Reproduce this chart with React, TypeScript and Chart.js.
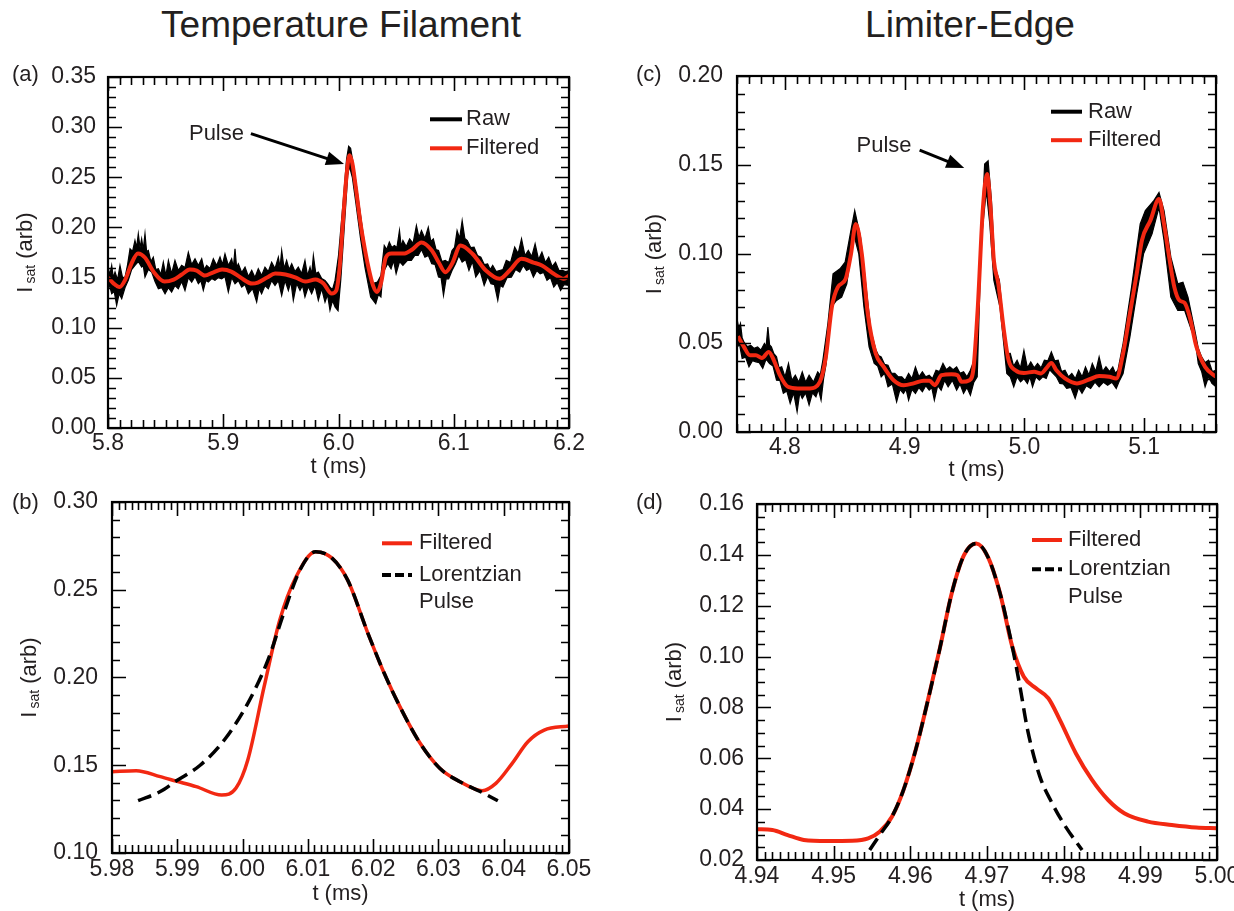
import React, { useEffect, useRef } from 'react';
import { Chart, registerables } from 'chart.js';

Chart.register(...registerables);

type Pt = [number, number];

const FONT = '"Liberation Sans", Arial, Helvetica, sans-serif';
const TEXT = '#231f20';
const RED = 'rgb(242,40,18)';

// ---------------- Panel (a): Temperature Filament, raw + filtered ----------------
const A_X_TICKS = [5.8, 5.9, 6.0, 6.1, 6.2];
const A_Y_TICKS = [0, 0.05, 0.1, 0.15, 0.2, 0.25, 0.3, 0.35];
const A_FILTERED: Pt[] = [
  [5.8, 0.15], [5.805, 0.144], [5.81, 0.1405], [5.815, 0.148], [5.82, 0.163], [5.826, 0.174],
  [5.832, 0.17], [5.84, 0.155], [5.849, 0.146], [5.857, 0.148], [5.864, 0.153], [5.871, 0.158],
  [5.877, 0.157], [5.884, 0.152], [5.891, 0.155], [5.899, 0.158], [5.907, 0.156], [5.915, 0.15],
  [5.925, 0.144], [5.93, 0.145], [5.938, 0.15], [5.945, 0.154], [5.954, 0.153], [5.963, 0.15],
  [5.971, 0.146], [5.98, 0.148], [5.987, 0.144], [5.994, 0.134], [5.998, 0.137], [6.001, 0.16],
  [6.004, 0.208], [6.007, 0.252], [6.0095, 0.272], [6.012, 0.264], [6.015, 0.24], [6.019, 0.205],
  [6.0215, 0.187], [6.026, 0.16], [6.03, 0.142], [6.0335, 0.1356], [6.037, 0.145], [6.041, 0.17],
  [6.046, 0.174], [6.0574, 0.174], [6.064, 0.178], [6.072, 0.185], [6.081, 0.177], [6.087, 0.165],
  [6.0927, 0.1554], [6.0985, 0.1637], [6.1059, 0.182], [6.1162, 0.1737], [6.1279, 0.157],
  [6.1397, 0.1488], [6.1485, 0.157], [6.1588, 0.1687], [6.1691, 0.165], [6.1765, 0.162],
  [6.1867, 0.1538], [6.1956, 0.1488], [6.2, 0.152],
];
const A_RAW_HIGH: Pt[] = [
  [5.8, 0.1604], [5.8016, 0.153], [5.8032, 0.1621], [5.8046, 0.15], [5.8061, 0.1555], [5.8083, 0.148],
  [5.8104, 0.1621], [5.8126, 0.15], [5.8148, 0.1505], [5.817, 0.163], [5.8191, 0.1787], [5.8213, 0.176],
  [5.8234, 0.1869], [5.8248, 0.18], [5.8263, 0.1936], [5.8278, 0.18], [5.8292, 0.1886], [5.8306, 0.178],
  [5.8321, 0.1936], [5.8335, 0.176], [5.835, 0.177], [5.8372, 0.166], [5.8393, 0.1704], [5.8415, 0.158],
  [5.8437, 0.1588], [5.8458, 0.153], [5.848, 0.1654], [5.8502, 0.152], [5.8524, 0.1671], [5.8552, 0.154],
  [5.8581, 0.1671], [5.861, 0.157], [5.8639, 0.1621], [5.8668, 0.16], [5.8697, 0.1753], [5.8726, 0.163],
  [5.8755, 0.1687], [5.8784, 0.162], [5.8813, 0.1687], [5.8835, 0.158], [5.8856, 0.1621], [5.8885, 0.159],
  [5.8914, 0.1687], [5.8943, 0.162], [5.8972, 0.1704], [5.8993, 0.163], [5.9015, 0.1737], [5.9044, 0.162],
  [5.9073, 0.1687], [5.9088, 0.16], [5.9102, 0.1787], [5.9116, 0.16], [5.9131, 0.1637], [5.916, 0.155],
  [5.9189, 0.1604], [5.9218, 0.151], [5.9247, 0.1571], [5.9275, 0.15], [5.9304, 0.1588], [5.9333, 0.152],
  [5.9362, 0.1604], [5.9391, 0.156], [5.942, 0.1654], [5.9449, 0.159], [5.9478, 0.1704], [5.9493, 0.16],
  [5.9507, 0.177], [5.9528, 0.159], [5.955, 0.1671], [5.9572, 0.158], [5.9594, 0.1637], [5.9622, 0.156],
  [5.9651, 0.1604], [5.968, 0.154], [5.9709, 0.1671], [5.9731, 0.152], [5.9753, 0.1604], [5.9767, 0.153],
  [5.9782, 0.172], [5.9803, 0.154], [5.9825, 0.1555], [5.9854, 0.149], [5.9883, 0.1472], [5.9905, 0.144],
  [5.9926, 0.1405], [5.9948, 0.138], [5.997, 0.1472], [6.0, 0.172], [6.004, 0.225], [6.007, 0.268],
  [6.0088, 0.281], [6.0105, 0.279], [6.013, 0.262], [6.016, 0.238], [6.02, 0.205], [6.025, 0.1637],
  [6.0294, 0.1439], [6.0338, 0.1455], [6.0368, 0.152], [6.0397, 0.182], [6.0419, 0.178], [6.0441, 0.1853],
  [6.0463, 0.18], [6.0485, 0.182], [6.0507, 0.18], [6.0529, 0.1969], [6.0544, 0.181], [6.0559, 0.1869],
  [6.0588, 0.181], [6.0617, 0.1886], [6.0647, 0.184], [6.0676, 0.2019], [6.0698, 0.19], [6.072, 0.1969],
  [6.075, 0.189], [6.0779, 0.2002], [6.0801, 0.186], [6.0823, 0.1886], [6.0846, 0.178], [6.0868, 0.177],
  [6.0897, 0.166], [6.0926, 0.1671], [6.0956, 0.165], [6.0985, 0.177], [6.1007, 0.18], [6.1029, 0.1969],
  [6.1051, 0.189], [6.1073, 0.2068], [6.1096, 0.189], [6.1118, 0.1869], [6.1147, 0.18], [6.1176, 0.1803],
  [6.1206, 0.172], [6.1235, 0.1704], [6.1265, 0.163], [6.1294, 0.1637], [6.1316, 0.158], [6.1338, 0.1621],
  [6.1368, 0.156], [6.1397, 0.1571], [6.1427, 0.158], [6.1456, 0.1671], [6.1493, 0.165], [6.1529, 0.1803],
  [6.1559, 0.174], [6.1588, 0.1886], [6.1618, 0.172], [6.1647, 0.177], [6.1677, 0.171], [6.1706, 0.1836],
  [6.1736, 0.168], [6.1765, 0.1753], [6.1795, 0.165], [6.1824, 0.1704], [6.1854, 0.161], [6.1883, 0.1654],
  [6.1913, 0.157], [6.1942, 0.1571], [6.1971, 0.156], [6.2, 0.1571],
];
const A_RAW_LOW: Pt[] = [
  [5.8, 0.1405], [5.8016, 0.141], [5.8032, 0.1339], [5.8054, 0.136], [5.8075, 0.1223], [5.8097, 0.134],
  [5.8119, 0.1289], [5.8148, 0.14], [5.8176, 0.1472], [5.8205, 0.158], [5.8234, 0.1621], [5.8263, 0.166],
  [5.8292, 0.1604], [5.8306, 0.162], [5.8321, 0.1505], [5.835, 0.158], [5.8379, 0.1555], [5.8408, 0.146],
  [5.8437, 0.1389], [5.8466, 0.14], [5.8495, 0.1339], [5.8524, 0.14], [5.8552, 0.1356], [5.8581, 0.142],
  [5.861, 0.1389], [5.8639, 0.146], [5.8668, 0.1372], [5.8697, 0.15], [5.8726, 0.1455], [5.8755, 0.151],
  [5.8784, 0.1439], [5.8806, 0.147], [5.8827, 0.1372], [5.8849, 0.147], [5.8871, 0.1455], [5.89, 0.149],
  [5.8928, 0.1472], [5.8957, 0.15], [5.8986, 0.1488], [5.9015, 0.151], [5.9044, 0.1356], [5.9073, 0.15],
  [5.9102, 0.1439], [5.9131, 0.147], [5.916, 0.1405], [5.9189, 0.143], [5.9218, 0.1339], [5.9254, 0.139],
  [5.929, 0.1256], [5.9311, 0.139], [5.9333, 0.1339], [5.9362, 0.142], [5.9391, 0.1389], [5.942, 0.147],
  [5.9449, 0.1422], [5.9478, 0.147], [5.9507, 0.1322], [5.9536, 0.147], [5.9565, 0.1372], [5.9587, 0.146],
  [5.9608, 0.1273], [5.9637, 0.144], [5.9666, 0.1372], [5.9688, 0.142], [5.9709, 0.1306], [5.9738, 0.141],
  [5.9767, 0.1339], [5.9796, 0.142], [5.9825, 0.1273], [5.9854, 0.139], [5.9883, 0.1256], [5.9905, 0.133],
  [5.9926, 0.1173], [5.9948, 0.127], [5.997, 0.1207], [5.9996, 0.117], [6.002, 0.148], [6.005, 0.2],
  [6.008, 0.252], [6.0095, 0.261], [6.012, 0.25], [6.015, 0.225], [6.019, 0.19], [6.023, 0.16],
  [6.0279, 0.1306], [6.0323, 0.124], [6.0346, 0.133], [6.0368, 0.1306], [6.0383, 0.15], [6.0397, 0.1571],
  [6.0427, 0.164], [6.0456, 0.1588], [6.0478, 0.167], [6.05, 0.1538], [6.053, 0.166], [6.0559, 0.1621],
  [6.0596, 0.167], [6.0632, 0.1671], [6.0662, 0.172], [6.0691, 0.172], [6.072, 0.178], [6.075, 0.1704],
  [6.078, 0.172], [6.0809, 0.1637], [6.0838, 0.163], [6.0868, 0.1505], [6.089, 0.15], [6.0911, 0.1323],
  [6.0934, 0.149], [6.0956, 0.1488], [6.0985, 0.157], [6.1015, 0.1637], [6.1044, 0.172], [6.1073, 0.1654],
  [6.1103, 0.168], [6.1132, 0.1571], [6.1162, 0.166], [6.1191, 0.1505], [6.1228, 0.157], [6.1264, 0.1422],
  [6.1294, 0.151], [6.1323, 0.1439], [6.1353, 0.143], [6.1382, 0.1273], [6.1404, 0.142], [6.1426, 0.1405],
  [6.1463, 0.15], [6.15, 0.1505], [6.1537, 0.158], [6.1573, 0.1555], [6.1603, 0.162], [6.1632, 0.1571],
  [6.1662, 0.159], [6.1691, 0.1505], [6.1721, 0.157], [6.175, 0.1538], [6.178, 0.155], [6.1809, 0.1472],
  [6.1839, 0.15], [6.1868, 0.1405], [6.1898, 0.145], [6.1927, 0.1372], [6.1956, 0.143], [6.2, 0.1422],
];

// ---------------- Panel (b): Temperature Filament, pulse close-up ----------------
const B_X_TICKS = [5.98, 5.99, 6.0, 6.01, 6.02, 6.03, 6.04, 6.05];
const B_Y_TICKS = [0.1, 0.15, 0.2, 0.25, 0.3];
const B_FILTERED: Pt[] = [
  [5.98, 0.1463], [5.9837, 0.1469], [5.9874, 0.1435], [5.9898, 0.141], [5.9929, 0.1378], [5.9968, 0.133],
  [5.999, 0.137], [6.0008, 0.153], [6.0033, 0.1948], [6.0057, 0.2328], [6.0082, 0.2574], [6.0112, 0.2717],
  [6.0137, 0.268], [6.0161, 0.2555], [6.0192, 0.2252], [6.0217, 0.2024], [6.0241, 0.1834], [6.0272, 0.1625],
  [6.0302, 0.1483], [6.0333, 0.1406], [6.0367, 0.1355], [6.0388, 0.1397], [6.0413, 0.1511], [6.0437, 0.1634],
  [6.0462, 0.17], [6.05, 0.1724],
];
const B_LORENTZ: Pt[] = [
  [5.984, 0.1298], [5.9874, 0.135], [5.9898, 0.141], [5.9935, 0.15], [5.9972, 0.1644], [6.0008, 0.1853],
  [6.0039, 0.21], [6.0063, 0.2366], [6.0088, 0.2613], [6.0112, 0.2717], [6.0137, 0.268], [6.0161, 0.2555],
  [6.0192, 0.2252], [6.0217, 0.2024], [6.0241, 0.1834], [6.0272, 0.1625], [6.0302, 0.1483], [6.0333, 0.1406],
  [6.0367, 0.1345], [6.0391, 0.1298],
];

// ---------------- Panel (c): Limiter-Edge, raw + filtered ----------------
const C_X_TICKS = [4.8, 4.9, 5.0, 5.1];
const C_Y_TICKS = [0, 0.05, 0.1, 0.15, 0.2];
const C_FILTERED: Pt[] = [
  [4.7608, 0.0538], [4.7658, 0.0478], [4.7708, 0.0431], [4.7758, 0.0431], [4.7808, 0.0416], [4.7865, 0.045],
  [4.7908, 0.0403], [4.7958, 0.0319], [4.8025, 0.0254], [4.8108, 0.0245], [4.8208, 0.0245], [4.8292, 0.0282],
  [4.8342, 0.0422], [4.8392, 0.0702], [4.8442, 0.0814], [4.8508, 0.0861], [4.8552, 0.1001], [4.8592, 0.1169],
  [4.8642, 0.1001], [4.8692, 0.0665], [4.8758, 0.0441], [4.8825, 0.0366], [4.8908, 0.0291], [4.8992, 0.0263],
  [4.9075, 0.0273], [4.9158, 0.0288], [4.9208, 0.0288], [4.9252, 0.0263], [4.9308, 0.0319], [4.9392, 0.0325],
  [4.9442, 0.0319], [4.9475, 0.0282], [4.9542, 0.0291], [4.9575, 0.036], [4.9611, 0.0702], [4.9654, 0.1262],
  [4.9688, 0.1449], [4.9717, 0.1262], [4.9745, 0.0964], [4.9782, 0.0833], [4.9825, 0.059], [4.9868, 0.0403],
  [4.9925, 0.0347], [4.9996, 0.0332], [5.0082, 0.0338], [5.0139, 0.0329], [5.0182, 0.0357], [5.0225, 0.0388],
  [5.0267, 0.0347], [5.0339, 0.0301], [5.0439, 0.0273], [5.0539, 0.0295], [5.0624, 0.0314], [5.071, 0.031],
  [5.0767, 0.0301], [5.0824, 0.0441], [5.0881, 0.0665], [5.0938, 0.0889], [5.0981, 0.1076], [5.1052, 0.1188],
  [5.1124, 0.1309], [5.1166, 0.1169], [5.1209, 0.0982], [5.1252, 0.0814], [5.1295, 0.0739], [5.1338, 0.0725],
  [5.1381, 0.0646], [5.1437, 0.0478], [5.1509, 0.0366], [5.16, 0.031],
];
const C_RAW_HIGH: Pt[] = [
  [4.76, 0.0637], [4.7615, 0.058], [4.7629, 0.0609], [4.7643, 0.053], [4.7657, 0.0506], [4.7686, 0.048],
  [4.7715, 0.0487], [4.7743, 0.047], [4.7772, 0.0478], [4.78, 0.046], [4.7829, 0.0497], [4.7843, 0.048],
  [4.7858, 0.059], [4.7872, 0.049], [4.7887, 0.0478], [4.7908, 0.044], [4.793, 0.0422], [4.7951, 0.036],
  [4.7973, 0.0366], [4.8001, 0.031], [4.803, 0.0385], [4.8058, 0.029], [4.8087, 0.0319], [4.8116, 0.028],
  [4.8145, 0.0338], [4.8173, 0.028], [4.8202, 0.0319], [4.8238, 0.028], [4.8274, 0.0338], [4.8295, 0.032],
  [4.8317, 0.0403], [4.8359, 0.0609], [4.8402, 0.0889], [4.846, 0.0917], [4.8503, 0.0954], [4.8546, 0.1113],
  [4.8583, 0.1244], [4.8632, 0.1094], [4.8675, 0.0833], [4.8718, 0.0571], [4.8761, 0.0459], [4.8782, 0.043],
  [4.8804, 0.0422], [4.8832, 0.038], [4.8861, 0.0375], [4.889, 0.033], [4.8918, 0.0329], [4.8947, 0.031],
  [4.8976, 0.031], [4.9004, 0.029], [4.9033, 0.0329], [4.9061, 0.03], [4.909, 0.0366], [4.9119, 0.031],
  [4.9148, 0.0338], [4.9176, 0.031], [4.9205, 0.0319], [4.9233, 0.03], [4.9262, 0.0347], [4.9291, 0.034],
  [4.932, 0.0385], [4.9348, 0.035], [4.9377, 0.0366], [4.9405, 0.035], [4.9434, 0.0366], [4.9463, 0.033],
  [4.9492, 0.0338], [4.952, 0.031], [4.9549, 0.0347], [4.9578, 0.04], [4.9606, 0.0609], [4.9625, 0.0889],
  [4.9668, 0.1505], [4.9697, 0.1524], [4.9725, 0.13], [4.9754, 0.0926], [4.9791, 0.0852], [4.9839, 0.0497],
  [4.986, 0.044], [4.9882, 0.0441], [4.991, 0.037], [4.9939, 0.0403], [4.9967, 0.036], [4.9996, 0.0459],
  [5.0025, 0.036], [5.0053, 0.0394], [5.0082, 0.036], [5.011, 0.0385], [5.0139, 0.036], [5.0167, 0.0403],
  [5.0196, 0.04], [5.0225, 0.045], [5.0253, 0.04], [5.0282, 0.0403], [5.031, 0.034], [5.0339, 0.0347],
  [5.0368, 0.031], [5.0396, 0.0329], [5.0425, 0.03], [5.0453, 0.0347], [5.0482, 0.031], [5.051, 0.0366],
  [5.0539, 0.032], [5.0567, 0.0385], [5.0596, 0.034], [5.0624, 0.0422], [5.0653, 0.034], [5.0681, 0.0366],
  [5.071, 0.034], [5.0738, 0.0366], [5.076, 0.033], [5.0781, 0.0347], [5.0824, 0.0497], [5.0895, 0.0814],
  [5.0967, 0.1169], [5.101, 0.1244], [5.1081, 0.13], [5.1124, 0.1346], [5.1166, 0.1244], [5.1223, 0.0982],
  [5.1281, 0.0833], [5.1324, 0.0842], [5.1366, 0.0758], [5.1423, 0.0571], [5.1452, 0.047], [5.148, 0.0422],
  [5.1509, 0.039], [5.1538, 0.0403], [5.1569, 0.034], [5.16, 0.0347],
];
const C_RAW_LOW: Pt[] = [
  [4.76, 0.0478], [4.7622, 0.049], [4.7643, 0.0413], [4.7672, 0.042], [4.77, 0.0366], [4.7729, 0.04],
  [4.7758, 0.0394], [4.7786, 0.039], [4.7815, 0.0357], [4.7843, 0.041], [4.7872, 0.0385], [4.7901, 0.037],
  [4.793, 0.0291], [4.7958, 0.029], [4.7987, 0.0217], [4.8016, 0.023], [4.8044, 0.0161], [4.8073, 0.022],
  [4.8102, 0.0114], [4.8124, 0.022], [4.8145, 0.0189], [4.8173, 0.022], [4.8202, 0.0151], [4.823, 0.022],
  [4.8259, 0.0198], [4.828, 0.024], [4.8302, 0.0179], [4.8323, 0.03], [4.8345, 0.0385], [4.8388, 0.0702],
  [4.8431, 0.0739], [4.8474, 0.0758], [4.8517, 0.0833], [4.8574, 0.1113], [4.8617, 0.1001], [4.866, 0.0702],
  [4.8703, 0.0478], [4.8746, 0.0385], [4.8775, 0.037], [4.8804, 0.031], [4.8832, 0.033], [4.8861, 0.0254],
  [4.8897, 0.027], [4.8933, 0.017], [4.8961, 0.024], [4.899, 0.0217], [4.9012, 0.024], [4.9033, 0.0179],
  [4.9061, 0.024], [4.909, 0.0217], [4.9119, 0.025], [4.9148, 0.0226], [4.9176, 0.026], [4.9205, 0.0235],
  [4.9226, 0.025], [4.9248, 0.0179], [4.9276, 0.026], [4.9305, 0.0235], [4.9334, 0.029], [4.9363, 0.0254],
  [4.9398, 0.029], [4.9434, 0.0235], [4.9463, 0.027], [4.9492, 0.0217], [4.952, 0.025], [4.9549, 0.0207],
  [4.9578, 0.028], [4.9606, 0.031], [4.964, 0.1076], [4.9682, 0.1356], [4.9711, 0.1169], [4.9745, 0.0852],
  [4.9796, 0.0702], [4.9853, 0.0329], [4.9882, 0.031], [4.9911, 0.0254], [4.9939, 0.031], [4.9968, 0.0282],
  [4.9996, 0.03], [5.0025, 0.0273], [5.0046, 0.031], [5.0068, 0.0254], [5.0096, 0.031], [5.0125, 0.0291],
  [5.0153, 0.031], [5.0182, 0.0301], [5.021, 0.035], [5.0239, 0.0329], [5.0267, 0.031], [5.0296, 0.0273],
  [5.0325, 0.027], [5.0353, 0.0245], [5.0389, 0.025], [5.0424, 0.0189], [5.0452, 0.025], [5.0481, 0.0217],
  [5.0517, 0.026], [5.0553, 0.0245], [5.0589, 0.028], [5.0624, 0.0254], [5.066, 0.028], [5.0695, 0.0263],
  [5.0731, 0.028], [5.0767, 0.0245], [5.0795, 0.029], [5.0824, 0.0329], [5.0881, 0.0534], [5.0938, 0.0777],
  [5.0995, 0.1001], [5.1066, 0.1113], [5.1124, 0.1262], [5.1166, 0.1076], [5.1223, 0.0758], [5.1281, 0.0683],
  [5.1338, 0.0683], [5.1395, 0.0571], [5.1423, 0.053], [5.1452, 0.0385], [5.148, 0.034], [5.1509, 0.0254],
  [5.1538, 0.031], [5.1566, 0.0273], [5.16, 0.0254],
];

// ---------------- Panel (d): Limiter-Edge, pulse close-up ----------------
const D_X_TICKS = [4.94, 4.95, 4.96, 4.97, 4.98, 4.99, 5.0];
const D_Y_TICKS = [0.02, 0.04, 0.06, 0.08, 0.1, 0.12, 0.14, 0.16];
const D_FILTERED: Pt[] = [
  [4.94, 0.0321], [4.942, 0.0318], [4.944, 0.0298], [4.9461, 0.0279], [4.9492, 0.0275], [4.9524, 0.0276],
  [4.9545, 0.0285], [4.956, 0.0311], [4.9576, 0.037], [4.9591, 0.0475], [4.9607, 0.0633], [4.9623, 0.0829],
  [4.9639, 0.1039], [4.9654, 0.1249], [4.967, 0.1399], [4.9686, 0.1445], [4.9701, 0.1393], [4.9717, 0.1249],
  [4.9733, 0.1039], [4.9748, 0.0921], [4.9764, 0.0875], [4.978, 0.0836], [4.9795, 0.0751], [4.9816, 0.0619],
  [4.9837, 0.0515], [4.9858, 0.0436], [4.9879, 0.0384], [4.991, 0.0351], [4.9941, 0.0338], [4.9973, 0.0328],
  [5.0, 0.0325],
];
const D_LORENTZ: Pt[] = [
  [4.9547, 0.0239], [4.956, 0.0298], [4.9576, 0.037], [4.9591, 0.0475], [4.9607, 0.0633], [4.9623, 0.0829],
  [4.9639, 0.1039], [4.9654, 0.1249], [4.967, 0.1399], [4.9686, 0.1445], [4.9701, 0.1393], [4.9717, 0.1249],
  [4.9733, 0.1039], [4.9743, 0.0882], [4.9753, 0.0711], [4.9769, 0.0528], [4.9785, 0.0423], [4.9801, 0.0338],
  [4.9824, 0.0239],
];

// Annotation anchor points (data units)
const A_PULSE_TEXT: Pt = [5.918, 0.2936];
const A_PULSE_ARROW: Pt[] = [[5.924, 0.2936], [6.0048, 0.2632]];
const C_PULSE_TEXT: Pt = [4.9058, 0.1608];
const C_PULSE_ARROW: Pt[] = [[4.9125, 0.1584], [4.9498, 0.1483]];

const toXY = (pts: Pt[]) => pts.map(([x, y]) => ({ x, y }));

interface LegendItem { lines: string[]; color: string; dash?: number[] }
interface PanelDef {
  key: string;
  canvas: { left: number; top: number; width: number; height: number };
  padTop: number; padRight: number;
  yAxisWidth: number; xAxisHeight: number;
  xRange: [number, number]; yRange: [number, number];
  xTicks: number[]; yTicks: number[]; xDec: number; yDec: number;
  xMinor: number; yMinor: number;
  xLabelPad: number; yLabelPad: number;
  label: string; labelPos: [number, number];
  legend: { x0: number; x1: number; tx: number; y: number; dy: number; lineDy: number; items: LegendItem[] };
  pulse?: { text: Pt; arrow: Pt[] };
  datasets: any[];
}

const rawSets = (hi: Pt[], lo: Pt[]) => [
  { label: 'Raw high', data: toXY(hi), borderColor: '#000', borderWidth: 1.2, tension: 0, pointRadius: 0, fill: false, order: 1 },
  { label: 'Raw low', data: toXY(lo), borderColor: '#000', borderWidth: 1.2, tension: 0, pointRadius: 0, fill: '-1', backgroundColor: '#000', order: 2 },
];

const PANELS: PanelDef[] = [
  {
    key: 'a', canvas: { left: 0, top: 60, width: 610, height: 420 }, padTop: 17, padRight: 41,
    yAxisWidth: 108, xAxisHeight: 52, xRange: [5.8, 6.2], yRange: [0, 0.35],
    xTicks: A_X_TICKS, yTicks: A_Y_TICKS, xDec: 1, yDec: 2, xMinor: 0.01, yMinor: 0.01,
    xLabelPad: 2, yLabelPad: 12, label: '(a)', labelPos: [12, 15],
    legend: { x0: 430, x1: 462, tx: 466, y: 59.3, dy: 29, lineDy: 27, items: [
      { lines: ['Raw'], color: '#000' }, { lines: ['Filtered'], color: RED }] },
    pulse: { text: A_PULSE_TEXT, arrow: A_PULSE_ARROW },
    datasets: [
      { label: 'Filtered', data: toXY(A_FILTERED), borderColor: RED, borderWidth: 4, cubicInterpolationMode: 'monotone', pointRadius: 0, fill: false, order: 0 },
      ...rawSets(A_RAW_HIGH, A_RAW_LOW),
    ],
  },
  {
    key: 'b', canvas: { left: 0, top: 480, width: 610, height: 427 }, padTop: 22, padRight: 41,
    yAxisWidth: 112, xAxisHeight: 54, xRange: [5.98, 6.05], yRange: [0.1, 0.3],
    xTicks: B_X_TICKS, yTicks: B_Y_TICKS, xDec: 2, yDec: 2, xMinor: 0.001, yMinor: 0.01,
    xLabelPad: 3, yLabelPad: 14, label: '(b)', labelPos: [12, 23],
    legend: { x0: 382, x1: 412, tx: 419, y: 63.3, dy: 31.7, lineDy: 26.7, items: [
      { lines: ['Filtered'], color: RED }, { lines: ['Lorentzian', 'Pulse'], color: '#000', dash: [9, 4] }] },
    datasets: [
      { label: 'Lorentzian Pulse', data: toXY(B_LORENTZ), borderColor: '#000', borderWidth: 3.5, borderDash: [14, 7], cubicInterpolationMode: 'monotone', pointRadius: 0, fill: false, order: 0 },
      { label: 'Filtered', data: toXY(B_FILTERED), borderColor: RED, borderWidth: 3.5, cubicInterpolationMode: 'monotone', pointRadius: 0, fill: false, order: 1 },
    ],
  },
  {
    key: 'c', canvas: { left: 620, top: 60, width: 614, height: 423 }, padTop: 16, padRight: 18,
    yAxisWidth: 117, xAxisHeight: 51, xRange: [4.76, 5.16], yRange: [0, 0.2],
    xTicks: C_X_TICKS, yTicks: C_Y_TICKS, xDec: 1, yDec: 2, xMinor: 0.01, yMinor: 0.01,
    xLabelPad: 2, yLabelPad: 14, label: '(c)', labelPos: [16, 15],
    legend: { x0: 431, x1: 462, tx: 468, y: 51.7, dy: 28.5, lineDy: 27, items: [
      { lines: ['Raw'], color: '#000' }, { lines: ['Filtered'], color: RED }] },
    pulse: { text: C_PULSE_TEXT, arrow: C_PULSE_ARROW },
    datasets: [
      { label: 'Filtered', data: toXY(C_FILTERED), borderColor: RED, borderWidth: 4, cubicInterpolationMode: 'monotone', pointRadius: 0, fill: false, order: 0 },
      ...rawSets(C_RAW_HIGH, C_RAW_LOW),
    ],
  },
  {
    key: 'd', canvas: { left: 620, top: 480, width: 640, height: 433 }, padTop: 24, padRight: 43,
    yAxisWidth: 137, xAxisHeight: 53, xRange: [4.94, 5.0], yRange: [0.02, 0.16],
    xTicks: D_X_TICKS, yTicks: D_Y_TICKS, xDec: 2, yDec: 2, xMinor: 0.001, yMinor: 0.005,
    xLabelPad: 2.5, yLabelPad: 13, label: '(d)', labelPos: [16, 23],
    legend: { x0: 412, x1: 442, tx: 448, y: 60, dy: 29.3, lineDy: 27.4, items: [
      { lines: ['Filtered'], color: RED }, { lines: ['Lorentzian', 'Pulse'], color: '#000', dash: [9, 4] }] },
    datasets: [
      { label: 'Lorentzian Pulse', data: toXY(D_LORENTZ), borderColor: '#000', borderWidth: 3.5, borderDash: [14, 7], cubicInterpolationMode: 'monotone', pointRadius: 0, fill: false, order: 0 },
      { label: 'Filtered', data: toXY(D_FILTERED), borderColor: RED, borderWidth: 4, cubicInterpolationMode: 'monotone', pointRadius: 0, fill: false, order: 1 },
    ],
  },
];

function drawYTitle(ctx: CanvasRenderingContext2D, cx: number, cy: number) {
  ctx.save();
  ctx.translate(cx, cy);
  ctx.rotate(-Math.PI / 2);
  const big = `22px ${FONT}`;
  const small = `14px ${FONT}`;
  ctx.font = big;
  const wI = ctx.measureText('I').width;
  const wR = ctx.measureText(' (arb)').width;
  ctx.font = small;
  const wS = ctx.measureText('sat').width;
  const gap = 3;
  let x = -(wI + gap + wS + wR) / 2;
  ctx.fillStyle = TEXT;
  ctx.textAlign = 'left';
  ctx.textBaseline = 'alphabetic';
  ctx.font = big; ctx.fillText('I', x, 0); x += wI + gap;
  ctx.font = small; ctx.fillText('sat', x, 3); x += wS;
  ctx.font = big; ctx.fillText(' (arb)', x, 0);
  ctx.restore();
}

function drawArrow(ctx: CanvasRenderingContext2D, x1: number, y1: number, x2: number, y2: number) {
  const ang = Math.atan2(y2 - y1, x2 - x1);
  const hl = 18, hw = 7;
  const bx = x2 - hl * Math.cos(ang), by = y2 - hl * Math.sin(ang);
  ctx.beginPath();
  ctx.moveTo(x1, y1);
  ctx.lineTo(bx + 2 * Math.cos(ang), by + 2 * Math.sin(ang));
  ctx.lineWidth = 3;
  ctx.strokeStyle = '#000';
  ctx.stroke();
  ctx.beginPath();
  ctx.moveTo(x2, y2);
  ctx.lineTo(bx + hw * Math.sin(ang), by - hw * Math.cos(ang));
  ctx.lineTo(bx - hw * Math.sin(ang), by + hw * Math.cos(ang));
  ctx.closePath();
  ctx.fillStyle = '#000';
  ctx.fill();
}

function makeDecor(p: PanelDef) {
  return {
    id: 'decor_' + p.key,
    afterDatasetsDraw(chart: any) {
      const ctx: CanvasRenderingContext2D = chart.ctx;
      const { left, right, top, bottom } = chart.chartArea;
      const xs = chart.scales.x, ys = chart.scales.y;
      ctx.save();
      // inward ticks on all four sides
      ctx.strokeStyle = '#000';
      ctx.lineWidth = 1.6;
      ctx.beginPath();
      const nX = Math.round((p.xRange[1] - p.xRange[0]) / p.xMinor);
      for (let i = 0; i <= nX; i++) {
        const v = p.xRange[0] + i * p.xMinor;
        const major = p.xTicks.some((t) => Math.abs(t - v) < p.xMinor / 10);
        const len = major ? 14 : 8;
        const px = Math.round(xs.getPixelForValue(v)) + 0.5;
        ctx.moveTo(px, bottom); ctx.lineTo(px, bottom - len);
        ctx.moveTo(px, top); ctx.lineTo(px, top + len);
      }
      const nY = Math.round((p.yRange[1] - p.yRange[0]) / p.yMinor);
      for (let i = 0; i <= nY; i++) {
        const v = p.yRange[0] + i * p.yMinor;
        const major = p.yTicks.some((t) => Math.abs(t - v) < p.yMinor / 10);
        const len = major ? 14 : 8;
        const py = Math.round(ys.getPixelForValue(v)) + 0.5;
        ctx.moveTo(left, py); ctx.lineTo(left + len, py);
        ctx.moveTo(right, py); ctx.lineTo(right - len, py);
      }
      ctx.stroke();
      // frame
      ctx.lineWidth = 2.2;
      ctx.strokeRect(left, top, right - left, bottom - top);

      // legend
      const lg = p.legend;
      let y = lg.y;
      ctx.font = `22px ${FONT}`;
      ctx.textBaseline = 'middle';
      ctx.textAlign = 'left';
      for (const it of lg.items) {
        ctx.beginPath();
        ctx.setLineDash(it.dash ?? []);
        ctx.strokeStyle = it.color;
        ctx.lineWidth = 4;
        ctx.moveTo(lg.x0, y);
        ctx.lineTo(lg.x1, y);
        ctx.stroke();
        ctx.setLineDash([]);
        ctx.fillStyle = TEXT;
        it.lines.forEach((line, k) => ctx.fillText(line, lg.tx, y + k * lg.lineDy));
        y += lg.dy + (it.lines.length - 1) * lg.lineDy;
      }

      // pulse annotation
      if (p.pulse) {
        const tx = xs.getPixelForValue(p.pulse.text[0]);
        const ty = ys.getPixelForValue(p.pulse.text[1]);
        ctx.fillStyle = TEXT;
        ctx.textAlign = 'right';
        ctx.textBaseline = 'middle';
        ctx.fillText('Pulse', tx, ty);
        const [a0, a1] = p.pulse.arrow;
        drawArrow(ctx, xs.getPixelForValue(a0[0]), ys.getPixelForValue(a0[1]), xs.getPixelForValue(a1[0]), ys.getPixelForValue(a1[1]));
      }

      // panel label
      ctx.fillStyle = TEXT;
      ctx.font = `22px ${FONT}`;
      ctx.textAlign = 'left';
      ctx.textBaseline = 'middle';
      ctx.fillText(p.label, p.labelPos[0], p.labelPos[1]);

      // y-axis title with subscript
      drawYTitle(ctx, left - 76, (top + bottom) / 2);
      ctx.restore();
    },
  };
}

function PanelChart({ p }: { p: PanelDef }) {
  const ref = useRef<HTMLCanvasElement>(null);
  useEffect(() => {
    if (!ref.current) return;
    const tickFont = { size: 23, family: FONT };
    const titleFont = { size: 22, family: FONT };
    const chart = new Chart(ref.current, {
      type: 'line',
      data: { datasets: p.datasets },
      options: {
        animation: false,
        responsive: false,
        devicePixelRatio: 1,
        events: [],
        layout: { padding: { left: 0, top: p.padTop, right: p.padRight, bottom: 0 } },
        plugins: { legend: { display: false }, tooltip: { enabled: false }, title: { display: false } },
        elements: { point: { radius: 0 } },
        scales: {
          x: {
            type: 'linear',
            min: p.xRange[0],
            max: p.xRange[1],
            grid: { display: false, drawTicks: true, tickLength: p.xLabelPad },
            border: { display: false },
            ticks: {
              autoSkip: false, maxRotation: 0, minRotation: 0, padding: 0, color: TEXT, font: tickFont,
              callback: (v: any) => Number(v).toFixed(p.xDec),
            },
            afterBuildTicks: (s: any) => { s.ticks = p.xTicks.map((v) => ({ value: v })); },
            afterFit: (s: any) => { s.height = p.xAxisHeight; },
            title: { display: true, text: 't (ms)', color: TEXT, font: titleFont, padding: { top: 0, bottom: 0 } },
          },
          y: {
            type: 'linear',
            min: p.yRange[0],
            max: p.yRange[1],
            grid: { display: false, drawTicks: true, tickLength: p.yLabelPad },
            border: { display: false },
            ticks: {
              autoSkip: false, padding: 0, color: TEXT, font: tickFont,
              callback: (v: any) => Number(v).toFixed(p.yDec),
            },
            afterBuildTicks: (s: any) => { s.ticks = p.yTicks.map((v) => ({ value: v })); },
            afterFit: (s: any) => { s.width = p.yAxisWidth; },
            title: { display: false },
          },
        },
      } as any,
      plugins: [makeDecor(p)],
    });
    return () => chart.destroy();
  }, [p]);
  return (
    <canvas
      ref={ref}
      width={p.canvas.width}
      height={p.canvas.height}
      style={{ position: 'absolute', left: p.canvas.left, top: p.canvas.top, width: p.canvas.width, height: p.canvas.height }}
    />
  );
}

const titleStyle = (cx: number): React.CSSProperties => ({
  position: 'absolute', left: cx - 300, top: 6, width: 600, textAlign: 'center',
  fontSize: 37, lineHeight: '37px', color: TEXT, fontFamily: FONT, whiteSpace: 'nowrap',
});

export default function App() {
  return (
    <div style={{ position: 'fixed', left: 0, top: 0, width: 1234, height: 911, overflow: 'hidden', background: '#fff' }}>
      <div style={titleStyle(341)}>Temperature Filament</div>
      <div style={titleStyle(970)}>Limiter-Edge</div>
      {PANELS.map((p) => <PanelChart key={p.key} p={p} />)}
    </div>
  );
}
